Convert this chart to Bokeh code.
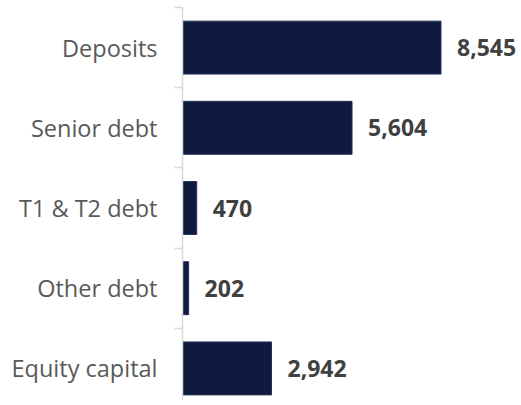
from bokeh.plotting import figure
from bokeh.models import Range1d, FixedTicker, ColumnDataSource
from bokeh.core.properties import value
from bokeh.embed import file_html
from bokeh.resources import INLINE

categories = ["Deposits", "Senior debt", "T1 & T2 debt", "Other debt", "Equity capital"]
amounts = [8545, 5604, 470, 202, 2942]

pos = list(range(len(categories)))
labels = [f"{v:,}" for v in amounts]
src = ColumnDataSource(dict(y=pos, x=amounts, lab=labels))

p = figure(width=521, height=400, output_backend="svg", toolbar_location=None,
           x_range=Range1d(0, 11206), y_range=Range1d(4.40, -0.5),
           min_border_left=182, min_border_right=0, min_border_top=7, min_border_bottom=0,
           x_axis_location=None)
p.outline_line_color = None
p.xgrid.visible = False
p.ygrid.visible = False
p.background_fill_color = "white"
p.border_fill_color = "white"

p.hbar(y="y", right="x", left=0, height=0.66, source=src,
       fill_color="#0e1a3f", line_color="#27305a", line_width=1)

p.text(x="x", y="y", text="lab", source=src, x_offset=16,
       text_align="left", text_baseline="middle",
       text_font=value("Open Sans"), text_font_size="23px", text_font_style="bold",
       text_color="#404040")

ax = p.yaxis[0]
ax.ticker = FixedTicker(ticks=pos, minor_ticks=[i - 0.5 for i in range(len(categories) + 1)])
ax.major_label_overrides = {i: c for i, c in zip(pos, categories)}
ax.major_tick_out = 0
ax.major_tick_in = 0
ax.minor_tick_out = 8
ax.minor_tick_in = 0
ax.minor_tick_line_color = "#d9d9d9"
ax.minor_tick_line_width = 1.5
ax.axis_line_color = "#d9d9d9"
ax.axis_line_width = 1.5
ax.major_label_standoff = 17
ax.major_label_text_font = "Open Sans"
ax.major_label_text_font_size = "23.5px"
ax.major_label_text_color = "#595959"

open("out.html", "w").write(file_html(p, INLINE))
